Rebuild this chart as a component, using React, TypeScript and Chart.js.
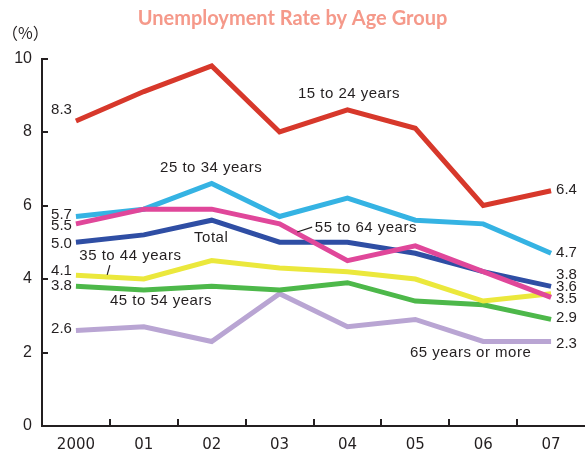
import React, { useEffect, useRef } from "react";
import { Chart, registerables } from "chart.js";

Chart.register(...registerables);

const categories = ["2000", "01", "02", "03", "04", "05", "06", "07"];
const age15to24 = [8.3, 9.1, 9.8, 8.0, 8.6, 8.1, 6.0, 6.4];
const age25to34 = [5.7, 5.9, 6.6, 5.7, 6.2, 5.6, 5.5, 4.7];
const age55to64 = [5.5, 5.9, 5.9, 5.5, 4.5, 4.9, 4.2, 3.5];
const totalRate = [5.0, 5.2, 5.6, 5.0, 5.0, 4.7, 4.2, 3.8];
const age35to44 = [4.1, 4.0, 4.5, 4.3, 4.2, 4.0, 3.4, 3.6];
const age45to54 = [3.8, 3.7, 3.8, 3.7, 3.9, 3.4, 3.3, 2.9];
const age65plus = [2.6, 2.7, 2.3, 3.6, 2.7, 2.9, 2.3, 2.3];
const yTicks = [0, 2, 4, 6, 8, 10];

const TEXT = "#231f20";
const FONT = "'Liberation Sans', Arial, sans-serif";

const series = [
  { label: "15 to 24 years", data: age15to24, color: "#d7382b", startDy: -11, endDy: -1 },
  { label: "55 to 64 years", data: age55to64, color: "#e0479a", startDy: 2, endDy: 1 },
  { label: "Total", data: totalRate, color: "#2f4ea4", startDy: 2, endDy: -11 },
  { label: "25 to 34 years", data: age25to34, color: "#35b3e3", startDy: -2, endDy: 0 },
  { label: "35 to 44 years", data: age35to44, color: "#ebe83c", startDy: -4, endDy: -6.5 },
  { label: "45 to 54 years", data: age45to54, color: "#4db84a", startDy: 0, endDy: -2 },
  { label: "65 years or more", data: age65plus, color: "#b9a5d3", startDy: -2, endDy: 2 },
];

// name labels anchored in data coordinates (category index, value)
const nameLabels = [
  { text: "15 to 24 years", idx: 3.27, value: 9.05 },
  { text: "25 to 34 years", idx: 1.24, value: 7.02 },
  { text: "Total", idx: 1.74, value: 5.12 },
  { text: "55 to 64 years", idx: 3.52, value: 5.4 },
  { text: "35 to 44 years", idx: 0.05, value: 4.63 },
  { text: "45 to 54 years", idx: 0.5, value: 3.4 },
  { text: "65 years or more", idx: 4.92, value: 2.0 },
];
const pointers = [
  { from: [3.26, 5.28], to: [3.48, 5.41] },
  { from: [0.46, 4.11], to: [0.5, 4.38] },
];

const annotate = {
  id: "annotate",
  afterDraw(chart: any) {
    const ctx = chart.ctx;
    const xs = chart.scales.x;
    const ys = chart.scales.y;
    const area = chart.chartArea;
    ctx.save();
    ctx.strokeStyle = TEXT;
    ctx.lineWidth = 2;
    // inward tick marks on y
    ys.ticks.forEach((t: any) => {
      const y = Math.round(ys.getPixelForValue(t.value));
      ctx.beginPath();
      ctx.moveTo(area.left, y);
      ctx.lineTo(area.left + 6, y);
      ctx.stroke();
    });
    // inward tick marks on x at category boundaries
    for (let i = 0; i < categories.length - 1; i++) {
      const x = Math.round(xs.getPixelForValue(i + 0.5));
      ctx.beginPath();
      ctx.moveTo(x, area.bottom);
      ctx.lineTo(x, area.bottom - 7);
      ctx.stroke();
    }
    // unit label
    ctx.fillStyle = TEXT;
    ctx.font = "16px 'Noto Sans CJK JP', sans-serif";
    ctx.textAlign = "left";
    ctx.textBaseline = "middle";
    ctx.fillText("（%）", 2, 33);

    // pointer lines
    ctx.lineWidth = 1.2;
    pointers.forEach((p) => {
      ctx.beginPath();
      ctx.moveTo(xs.getPixelForValue(p.from[0]), ys.getPixelForValue(p.from[1]));
      ctx.lineTo(xs.getPixelForValue(p.to[0]), ys.getPixelForValue(p.to[1]));
      ctx.stroke();
    });

    // series names
    ctx.font = `15px ${FONT}`;
    try { (ctx as any).letterSpacing = "0.5px"; } catch (e) {}
    nameLabels.forEach((l) => {
      ctx.fillText(l.text, xs.getPixelForValue(l.idx), ys.getPixelForValue(l.value));
    });
    try { (ctx as any).letterSpacing = "0px"; } catch (e) {}

    // start / end values
    ctx.font = `15px ${FONT}`;
    const last = categories.length - 1;
    series.forEach((s) => {
      const v0 = s.data[0];
      const v1 = s.data[last];
      ctx.textAlign = "right";
      ctx.fillText(v0.toFixed(1), xs.getPixelForValue(0) - 4, ys.getPixelForValue(v0) + s.startDy);
      ctx.textAlign = "left";
      ctx.fillText(v1.toFixed(1), xs.getPixelForValue(last) + 5, ys.getPixelForValue(v1) + s.endDy);
    });
    ctx.restore();
  },
};

export default function App() {
  const ref = useRef<HTMLCanvasElement>(null);
  useEffect(() => {
    document.body.style.margin = "0";
    const chart = new Chart(ref.current!, {
      type: "line",
      data: {
        labels: categories,
        datasets: series.map((s) => ({
          label: s.label,
          data: s.data,
          borderColor: s.color,
          backgroundColor: s.color,
          borderWidth: 5,
          pointRadius: 0,
          tension: 0,
          fill: false,
        })),
      },
      options: {
        responsive: false,
        animation: false,
        layout: { padding: 0 },
        plugins: {
          legend: { display: false },
          tooltip: { enabled: false },
          title: {
            display: true,
            text: "Unemployment Rate by Age Group",
            color: "#f5998a",
            font: { family: "Lato, sans-serif", size: 20, weight: "bold" },
            padding: { top: 7, bottom: 27.5 },
          },
        },
        scales: {
          x: {
            type: "category",
            offset: true,
            grid: { display: false, drawTicks: false, offset: true },
            border: { display: true, color: TEXT, width: 2 },
            ticks: {
              color: TEXT,
              font: { family: "'DejaVu Sans', sans-serif", size: 15 },
              padding: 10,
              maxRotation: 0,
              autoSkip: false,
            },
            afterFit: (scale: any) => {
              scale.height = 26;
            },
          },
          y: {
            min: 0,
            max: 10,
            afterBuildTicks: (scale: any) => {
              scale.ticks = yTicks.map((v) => ({ value: v }));
            },
            grid: { display: false, drawTicks: false },
            border: { display: true, color: TEXT, width: 2 },
            ticks: {
              color: TEXT,
              font: { family: FONT, size: 16 },
              padding: 10,
            },
            afterFit: (scale: any) => {
              scale.width = 42;
            },
          },
        },
      },
      plugins: [annotate],
    });
    return () => chart.destroy();
  }, []);
  return (
    <div style={{ position: "absolute", left: 0, top: 0, width: 585, height: 452 }}>
      <canvas ref={ref} width={585} height={452} />
    </div>
  );
}
